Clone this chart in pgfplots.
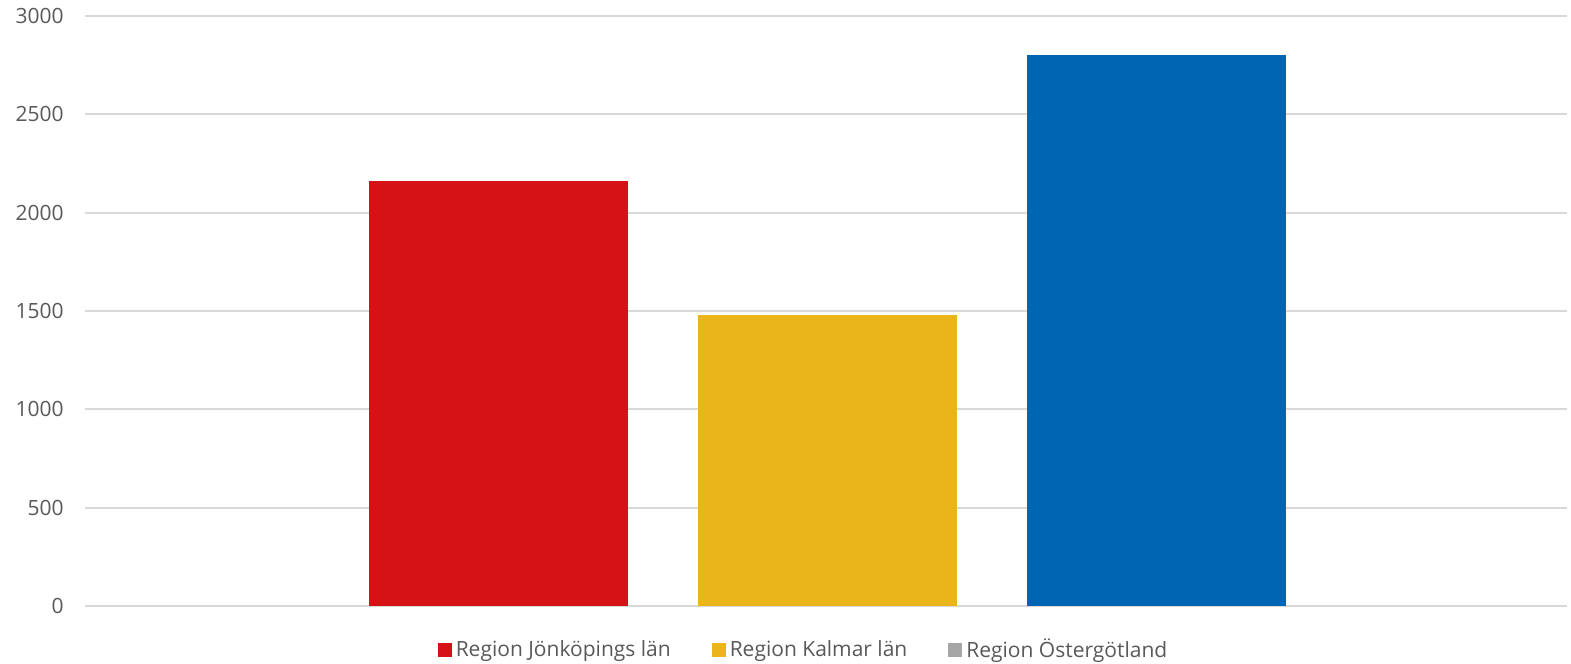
\documentclass[border=0pt]{standalone}
\usepackage{fontspec}
\setmainfont{Open Sans}
\usepackage{pgfplots}
\pgfplotsset{compat=1.18}

\definecolor{txt}{HTML}{595959}
\definecolor{gridc}{HTML}{D9D9D9}
\definecolor{jkp}{HTML}{D51317}
\definecolor{klm}{HTML}{EAB51B}
\definecolor{ostg}{HTML}{0066B3}
\definecolor{legg}{HTML}{A6A6A6}

\begin{document}
\begin{tikzpicture}
\fontsize{10.5}{12}\selectfont
\useasboundingbox (-42.5pt,-29pt) rectangle (743pt,303pt);
\begin{axis}[
    at={(0,0)}, anchor=south west,
    scale only axis,
    width=741pt, height=295pt,
    ymin=0, ymax=3000,
    ytick={0,500,...,3000},
    xmin=-0.2568, xmax=4.2477,
    xtick=\empty,
    axis line style={draw=none},
    major tick length=0,
    ymajorgrids,
    grid style={gridc, line width=1pt},
    tick label style={text=txt, font=\fontsize{10.5}{12}\selectfont},
    yticklabel style={xshift=-7pt},
    /pgf/number format/assume math mode=true,
    /pgf/number format/1000 sep={},
    bar width=0.787,
    ybar, bar shift=0pt,
    legend columns=3,
    legend style={at={(0.4855,-0.0746)}, anchor=center, draw=none,
        text=txt, font=\fontsize{10.5}{12}\selectfont,
        /tikz/every even column/.append style={column sep=18.5pt}},
    legend image code/.code={\fill[#1] (0pt,-3.5pt) rectangle (7pt,3.5pt);},
]
\addplot[fill=jkp, draw=none] coordinates {(1,2160)};
\addlegendentry{Region Jönköpings län}
\addplot[fill=klm, draw=none] coordinates {(2,1480)};
\addlegendentry{Region Kalmar län}
\addplot[fill=ostg, draw=none,
    legend image code/.code={\fill[legg] (0pt,-3.5pt) rectangle (7pt,3.5pt);}]
    coordinates {(3,2800)};
\addlegendentry{Region Östergötland}
\end{axis}
\end{tikzpicture}
\end{document}
